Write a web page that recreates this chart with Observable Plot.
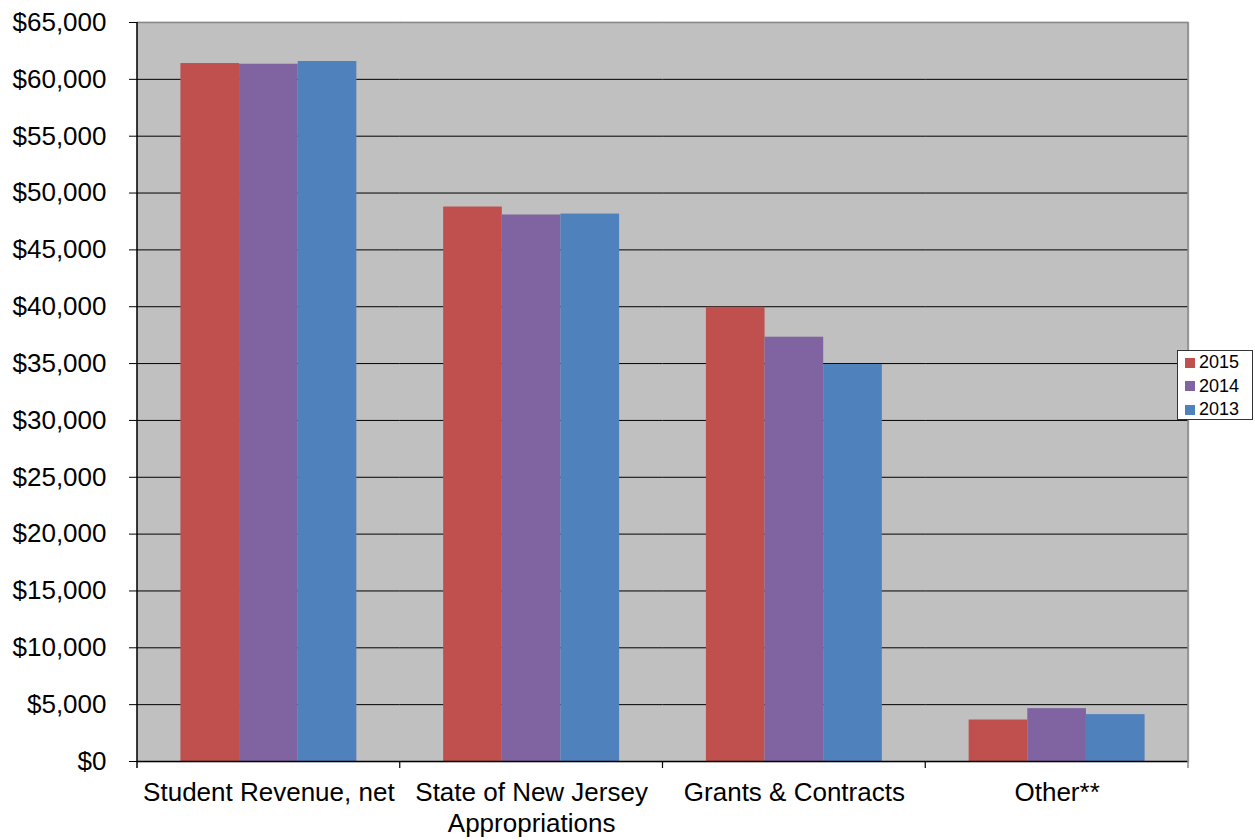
<!DOCTYPE html>
<html>
<head>
<meta charset="utf-8">
<script src="https://cdn.jsdelivr.net/npm/d3@7"></script>
<script src="https://cdn.jsdelivr.net/npm/@observablehq/plot@0.6"></script>
<style>
  html, body { margin: 0; padding: 0; background: #fff; }
  #wrap { position: relative; width: 1255px; height: 840px; font-family: "Liberation Sans", Arial, sans-serif; }
  #legend { position: absolute; left: 1177px; top: 350px; width: 76px; height: 70px; box-sizing: border-box;
            border: 1px solid #333; background: #fff; padding-left: 7px; }
  #legend .row { height: 23.5px; display: flex; align-items: center; font-size: 18px; color: #000; }
  #legend .sw { width: 10px; height: 10px; margin-right: 4px; }
</style>
</head>
<body>
<div id="wrap"></div>
<script>
const categories = ["Student Revenue, net", "State of New Jersey Appropriations", "Grants & Contracts", "Other**"];
const categoryLabels = ["Student Revenue, net", "State of New Jersey\nAppropriations", "Grants & Contracts", "Other**"];
const years = ["2015", "2014", "2013"];
const colors = ["#C0504D", "#8064A2", "#4F81BD"];
const values2015 = [61390, 48770, 39950, 3650];
const values2014 = [61330, 48070, 37320, 4650];
const values2013 = [61570, 48150, 34920, 4120];
const yTicks = [0, 5000, 10000, 15000, 20000, 25000, 30000, 35000, 40000, 45000, 50000, 55000, 60000, 65000];

const series = {"2015": values2015, "2014": values2014, "2013": values2013};
const data = [];
categories.forEach((c, i) => years.forEach(yr => data.push({category: c, year: yr, value: series[yr][i]})));
const labelOf = new Map(categories.map((c, i) => [c, categoryLabels[i]]));
const font = '"Liberation Sans", Arial, sans-serif';

const chart = Plot.plot({
  width: 1255,
  height: 840,
  marginLeft: 137,
  marginRight: 67,
  marginTop: 22,
  marginBottom: 79,
  style: {fontFamily: font, fontSize: "26px", color: "#000", background: "transparent", overflow: "visible"},
  fx: {domain: categories, padding: 0, round: false},
  x: {domain: years, paddingInner: 0, paddingOuter: 0.74, round: false, axis: null},
  y: {domain: [0, 65000]},
  color: {domain: years, range: colors},
  marks: [
    Plot.frame({fill: "#C0C0C0", stroke: "#C0C0C0", strokeWidth: 1.5}),
    Plot.ruleY(yTicks.filter(v => v > 0 && v < 65000), {stroke: "#000", strokeWidth: 1}),
    Plot.ruleY([65000], {stroke: "#888", strokeWidth: 1.5}),
    Plot.barY(data, {fx: "category", x: "year", y: "value", fill: "year"}),
    Plot.ruleY([0], {stroke: "#000", strokeWidth: 1.5}),
    Plot.axisY({ticks: yTicks, tickFormat: d => "$" + d3.format(",")(d), tickSize: 8, tickPadding: 23,
                fontSize: 26, label: null, stroke: "#000"}),
    Plot.axisFx({anchor: "bottom", tickSize: 0, tickPadding: 17.5, fontSize: 26, lineHeight: 1.2, label: null,
                 tickFormat: d => labelOf.get(d)})
  ]
});

// axis lines and category boundary ticks using the chart's own scales
try {
  const fx = chart.scale("fx"), y = chart.scale("y");
  const x0 = fx.range[0], x1 = fx.range[1];
  const y0 = y.apply(0), yTop = y.apply(65000);
  const svg = d3.select(chart);
  const g = svg.append("g");
  g.append("line").attr("x1", x1).attr("x2", x1).attr("y1", yTop).attr("y2", y0 + 7)
    .attr("stroke", "#888").attr("stroke-width", 1.5);
  g.append("line").attr("x1", x0).attr("x2", x0).attr("y1", yTop).attr("y2", y0 + 7)
    .attr("stroke", "#000").attr("stroke-width", 1.5);
  categories.slice(1).forEach(c => {
    const xb = fx.apply(c);
    g.append("line").attr("x1", xb).attr("x2", xb).attr("y1", y0).attr("y2", y0 + 7)
      .attr("stroke", "#000").attr("stroke-width", 1.2);
  });
} catch (e) { console.error(e); }

const wrap = document.getElementById("wrap");
wrap.appendChild(chart);

const legend = document.createElement("div");
legend.id = "legend";
years.forEach((yr, i) => {
  const row = document.createElement("div");
  row.className = "row";
  const sw = document.createElement("span");
  sw.className = "sw";
  sw.style.background = colors[i];
  row.appendChild(sw);
  row.appendChild(document.createTextNode(yr));
  legend.appendChild(row);
});
wrap.appendChild(legend);
</script>
</body>
</html>
